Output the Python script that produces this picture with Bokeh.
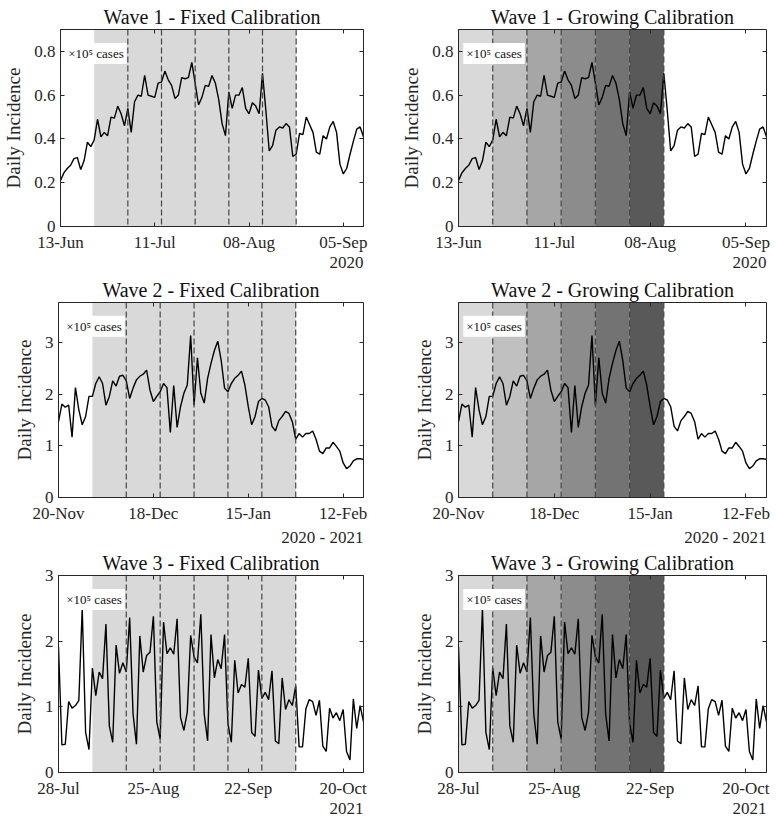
from bokeh.plotting import figure
from bokeh.layouts import column, row
from bokeh.models import FixedTicker, LinearAxis, Span, Label, Range1d, Title
from bokeh.embed import file_html
from bokeh.resources import INLINE

# Daily incidence (x 10^5 cases), one value per day over a 91-day span
days = list(range(91))

wave1 = [0.21, 0.245, 0.265, 0.28, 0.31, 0.315, 0.26, 0.30, 0.385, 0.365,
         0.395, 0.49, 0.41, 0.43, 0.415, 0.50, 0.495, 0.55, 0.515, 0.46,
         0.54, 0.43, 0.57, 0.60, 0.595, 0.69, 0.60, 0.595, 0.59, 0.655,
         0.66, 0.71, 0.67, 0.645, 0.585, 0.60, 0.68, 0.675, 0.68, 0.75,
         0.655, 0.555, 0.59, 0.645, 0.64, 0.69, 0.655, 0.58, 0.47, 0.415,
         0.615, 0.54, 0.60, 0.60, 0.635, 0.54, 0.515, 0.565, 0.55, 0.515,
         0.70, 0.53, 0.345, 0.37, 0.44, 0.455, 0.45, 0.47, 0.455, 0.32,
         0.33, 0.425, 0.42, 0.50, 0.465, 0.43, 0.34, 0.33, 0.415, 0.40,
         0.455, 0.48, 0.43, 0.285, 0.24, 0.265, 0.33, 0.39, 0.445, 0.455,
         0.41]

wave2 = [1.47, 1.81, 1.75, 1.79, 1.17, 2.13, 1.70, 1.41, 1.57, 1.96,
         1.96, 2.21, 2.34, 2.21, 1.79, 1.96, 2.26, 2.16, 2.35, 2.37,
         2.26, 1.92, 2.12, 2.28, 2.35, 2.39, 2.47, 2.08, 1.86, 1.96,
         2.05, 2.21, 2.13, 1.26, 2.17, 1.36, 1.76, 2.02, 2.18, 3.14,
         1.79, 2.71, 2.02, 1.83, 2.31, 2.60, 2.85, 3.03, 2.66, 2.12,
         2.05, 2.21, 2.31, 2.37, 2.45, 2.18, 1.76, 1.41, 1.57, 1.86,
         1.92, 1.89, 1.76, 1.38, 1.29, 1.49, 1.57, 1.67, 1.63, 1.47,
         1.13, 1.24, 1.17, 1.24, 1.24, 1.29, 1.13, 0.90, 0.85, 0.96,
         0.96, 1.07, 0.99, 0.90, 0.67, 0.56, 0.61, 0.71, 0.75, 0.75,
         0.74]

wave3 = [1.91, 0.42, 0.43, 1.08, 0.98, 1.02, 1.10, 2.50, 0.61, 0.35,
         1.59, 1.17, 1.53, 1.43, 2.26, 0.71, 0.46, 1.94, 1.51, 1.67,
         1.53, 2.36, 0.89, 0.43, 2.08, 1.53, 1.78, 1.83, 2.38, 0.77,
         0.51, 2.29, 1.81, 1.90, 1.80, 2.34, 0.84, 0.64, 0.92, 2.09,
         1.76, 1.67, 2.41, 0.89, 0.48, 2.10, 1.44, 1.72, 1.58, 2.10,
         0.74, 0.46, 1.71, 1.21, 1.34, 1.30, 1.74, 0.61, 0.55, 1.56,
         1.13, 1.22, 1.11, 1.55, 0.48, 0.44, 1.44, 0.96, 1.11, 1.02,
         1.32, 0.39, 0.39, 0.97, 1.11, 1.08, 0.87, 1.10, 0.40, 0.32,
         0.98, 0.83, 0.91, 0.79, 0.96, 0.32, 0.19, 1.12, 0.67, 1.02,
         0.77]

waves = [wave1, wave2, wave3]
wave_names = ["Wave 1", "Wave 2", "Wave 3"]

# Date axis
tick_days = [0, 28, 56, 84]
date_ticks = [
    ["13-Jun", "11-Jul", "08-Aug", "05-Sep"],
    ["20-Nov", "18-Dec", "15-Jan", "12-Feb"],
    ["28-Jul", "25-Aug", "22-Sep", "20-Oct"],
]
year_labels = ["2020", "2020 - 2021", "2021"]

# Incidence axis
y_ticks = [[0, 0.2, 0.4, 0.6, 0.8], [0, 1, 2, 3], [0, 1, 2, 3]]
y_tick_text = [["0", "0.2", "0.4", "0.6", "0.8"], ["0", "1", "2", "3"], ["0", "1", "2", "3"]]
y_max = [0.9, 3.78, 3.0]

# Calibration windows (days from the start of each wave)
fixed_window = [10, 70]
fixed_splits = [20, 30, 40, 50, 60, 70]
growing_edges = [0, 10, 20, 30, 40, 50, 60]
growing_colors = ["#d9d9d9", "#c0c0c0", "#a6a6a6", "#8c8c8c", "#737373", "#595959"]

SERIF = "Liberation Serif"
INK = "#262626"


def style_axis(ax, size="17px"):
    ax.axis_line_color = INK
    ax.axis_line_width = 1
    ax.major_tick_line_color = INK
    ax.major_tick_in = 4
    ax.major_tick_out = 0
    ax.minor_tick_line_color = None
    ax.major_label_text_font = SERIF
    ax.major_label_text_font_size = size
    ax.major_label_text_color = INK


def box_axis(ticks):
    # tick-only axis used to close the box on the top and right sides
    ax = LinearAxis(ticker=FixedTicker(ticks=ticks))
    style_axis(ax)
    ax.major_label_text_color = None
    ax.major_label_text_font_size = "0px"
    ax.major_label_standoff = 0
    return ax


def panel(i, mode, left_col):
    ymax = y_max[i]
    title = f"{wave_names[i]} - {'Fixed' if mode == 'fixed' else 'Growing'} Calibration"
    p = figure(width=388, height=273,
               x_range=Range1d(0, 90), y_range=Range1d(0, ymax),
               output_backend="svg", toolbar_location=None,
               min_border_left=58 if left_col else 70,
               min_border_right=25 if left_col else 10,
               min_border_top=29, min_border_bottom=47,
               title=title)
    p.title.align = "center"
    p.title.text_font = SERIF
    p.title.text_font_size = "20px"
    p.title.text_font_style = "normal"
    p.title.text_color = "#111111"
    p.title.standoff = 4
    p.grid.visible = False
    p.outline_line_color = None

    # calibration shading
    if mode == "fixed":
        p.quad(left=[fixed_window[0]], right=[fixed_window[1]], bottom=[0], top=[ymax],
               fill_color="#d9d9d9", line_color=None)
        splits = fixed_splits
    else:
        p.quad(left=growing_edges[:-1], right=growing_edges[1:],
               bottom=[0] * len(growing_colors), top=[ymax] * len(growing_colors),
               fill_color=growing_colors, line_color=None)
        splits = growing_edges[1:]

    for d in splits:
        p.add_layout(Span(location=d, dimension="height", line_color="#454545",
                          line_width=1.2, line_dash="6 3"))

    p.line(days, waves[i], line_color="black", line_width=1.4)

    # bottom axis with dates
    xax = p.xaxis[0]
    xax.ticker = FixedTicker(ticks=tick_days)
    xax.major_label_overrides = dict(zip(tick_days, date_ticks[i]))
    xax.major_label_standoff = 6
    style_axis(xax)

    # year(s) under the date axis, flush with the right end
    p.add_layout(Title(text=year_labels[i], align="right", text_font=SERIF,
                       text_font_size="17px", text_font_style="normal",
                       text_color=INK, standoff=0, offset=0), "below")

    yax = p.yaxis[0]
    yax.ticker = FixedTicker(ticks=y_ticks[i])
    yax.major_label_overrides = dict(zip(y_ticks[i], y_tick_text[i]))
    yax.major_label_standoff = 5
    style_axis(yax)
    yax.axis_label = "Daily Incidence"
    yax.axis_label_text_font = SERIF
    yax.axis_label_text_font_size = "19px"
    yax.axis_label_text_font_style = "normal"
    yax.axis_label_text_color = INK
    yax.axis_label_standoff = 7

    p.add_layout(box_axis(tick_days), "above")
    p.add_layout(box_axis(y_ticks[i]), "right")

    # units note
    p.add_layout(Label(x=1.4, y=ymax * 0.878, text="×10⁵ cases",
                       text_font=SERIF, text_font_size="13px", text_color="#111111",
                       text_baseline="middle", text_align="left",
                       background_fill_color="white", padding=3))
    return p


rows = [row(panel(i, "fixed", True), panel(i, "growing", False)) for i in range(3)]
layout = column(*rows)

open("out.html", "w").write(file_html(layout, INLINE, title="Calibration windows"))
